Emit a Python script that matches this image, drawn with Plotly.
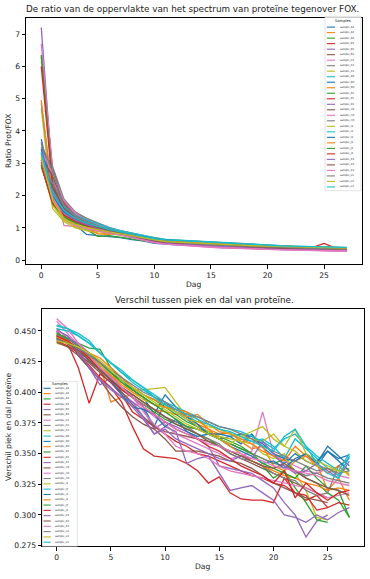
import plotly.graph_objects as go

days = list(range(28))
samples = ["sample_A1","sample_A2","sample_A3","sample_B1","sample_B2","sample_B3",
           "sample_C1","sample_C2","sample_C3","sample_D1","sample_D2","sample_D3",
           "sample_E1","sample_E2","sample_E3","sample_H1","sample_H2","sample_H3",
           "sample_I1","sample_I2","sample_I3","sample_J1","sample_J2","sample_J3",
           "sample_K1","sample_K2","sample_K3","sample_L1","sample_L2","sample_L3"]

ratio_A1 = [3.30,2.00,1.40,1.10,0.80,0.76,0.74,0.70,0.64,0.60,0.52,0.49,0.48,0.46,0.45,0.43,0.42,0.41,0.40,0.39,0.37,0.36,0.35,0.34,0.33,0.33,0.32,0.32]
ratio_A2 = [3.10,1.85,1.35,1.20,1.05,0.92,0.88,0.85,0.78,0.70,0.62,0.58,0.57,0.55,0.54,0.52,0.50,0.49,0.47,0.45,0.43,0.41,0.40,0.39,0.40,0.38,0.36,0.35]
ratio_A3 = [2.95,1.75,1.30,1.15,0.95,0.74,0.76,0.72,0.66,0.60,0.55,0.52,0.50,0.48,0.46,0.45,0.43,0.42,0.41,0.40,0.38,0.37,0.36,0.35,0.34,0.33,0.33,0.32]
ratio_B1 = [3.05,1.90,1.55,1.25,1.10,0.95,0.86,0.80,0.72,0.66,0.58,0.55,0.54,0.52,0.50,0.48,0.46,0.44,0.43,0.42,0.41,0.40,0.39,0.38,0.40,0.52,0.38,0.37]
ratio_B2 = [7.20,2.50,1.70,1.40,1.25,1.10,0.98,0.90,0.82,0.74,0.64,0.58,0.56,0.52,0.49,0.46,0.44,0.42,0.40,0.38,0.36,0.35,0.34,0.33,0.32,0.31,0.31,0.30]
ratio_B3 = [6.30,2.85,1.80,1.45,1.30,1.12,1.00,0.88,0.80,0.72,0.63,0.60,0.57,0.54,0.50,0.47,0.45,0.43,0.42,0.40,0.38,0.36,0.35,0.34,0.33,0.32,0.32,0.31]
ratio_C1 = [6.70,2.80,1.08,1.05,1.00,0.90,0.84,0.80,0.70,0.62,0.55,0.50,0.47,0.44,0.42,0.40,0.38,0.37,0.36,0.35,0.34,0.33,0.32,0.31,0.30,0.29,0.29,0.28]
ratio_C2 = [3.50,2.90,1.90,1.50,1.30,1.15,1.02,0.92,0.84,0.76,0.68,0.63,0.60,0.56,0.53,0.50,0.48,0.46,0.44,0.42,0.40,0.38,0.37,0.36,0.35,0.34,0.33,0.33]
ratio_C3 = [4.70,1.60,1.20,1.00,0.92,0.85,0.82,0.78,0.70,0.64,0.57,0.53,0.51,0.49,0.47,0.45,0.44,0.43,0.42,0.41,0.40,0.39,0.38,0.37,0.36,0.36,0.35,0.35]
ratio_D1 = [4.85,2.10,1.60,1.35,1.20,1.05,0.95,0.88,0.82,0.76,0.68,0.64,0.62,0.60,0.58,0.55,0.52,0.50,0.48,0.46,0.44,0.43,0.42,0.41,0.40,0.39,0.38,0.38]
ratio_D2 = [3.75,2.20,1.65,1.30,1.10,0.98,0.90,0.84,0.76,0.70,0.62,0.58,0.56,0.54,0.52,0.50,0.49,0.48,0.47,0.46,0.44,0.42,0.40,0.38,0.36,0.35,0.34,0.34]
ratio_D3 = [4.95,1.95,1.40,1.15,1.00,0.90,0.86,0.90,0.84,0.76,0.70,0.64,0.62,0.60,0.57,0.55,0.53,0.52,0.50,0.48,0.46,0.44,0.43,0.42,0.41,0.40,0.39,0.38]
ratio_E1 = [6.35,2.40,1.50,1.25,1.15,1.05,0.95,0.85,0.76,0.68,0.60,0.56,0.54,0.51,0.48,0.46,0.44,0.42,0.41,0.40,0.38,0.37,0.36,0.35,0.34,0.33,0.33,0.32]
ratio_E2 = [6.00,2.30,1.60,1.30,1.15,1.00,0.90,0.82,0.74,0.67,0.58,0.54,0.52,0.49,0.47,0.45,0.43,0.41,0.40,0.39,0.37,0.36,0.35,0.34,0.33,0.33,0.32,0.32]
ratio_E3 = [3.65,2.00,1.45,1.20,1.05,0.95,0.88,0.80,0.72,0.65,0.56,0.52,0.50,0.47,0.45,0.43,0.41,0.40,0.39,0.37,0.35,0.34,0.33,0.32,0.32,0.31,0.30,0.30]
ratio_H1 = [3.20,2.60,1.75,1.40,1.20,1.08,0.97,0.86,0.78,0.70,0.62,0.58,0.55,0.52,0.50,0.48,0.46,0.44,0.43,0.41,0.39,0.38,0.37,0.36,0.35,0.34,0.34,0.33]
ratio_H2 = [3.40,2.70,1.85,1.45,1.25,1.10,0.96,0.84,0.74,0.66,0.57,0.52,0.49,0.46,0.44,0.42,0.40,0.38,0.37,0.36,0.34,0.33,0.32,0.31,0.30,0.29,0.29,0.28]
ratio_H3 = [3.60,2.75,1.70,1.35,1.18,1.05,0.94,0.84,0.76,0.69,0.61,0.57,0.54,0.51,0.49,0.47,0.45,0.44,0.42,0.41,0.39,0.38,0.37,0.36,0.35,0.35,0.34,0.34]
ratio_I1 = [3.00,1.70,1.25,1.05,0.95,0.90,0.88,0.82,0.74,0.67,0.60,0.56,0.54,0.52,0.50,0.48,0.47,0.46,0.45,0.44,0.43,0.42,0.41,0.40,0.40,0.39,0.38,0.37]
ratio_I2 = [3.15,2.15,1.65,1.40,1.25,1.12,1.00,0.92,0.84,0.78,0.70,0.65,0.63,0.61,0.59,0.57,0.54,0.52,0.50,0.48,0.46,0.45,0.44,0.43,0.42,0.41,0.40,0.39]
ratio_I3 = [3.45,2.00,1.50,1.25,1.08,0.96,0.90,0.85,0.80,0.74,0.66,0.62,0.60,0.58,0.55,0.53,0.51,0.50,0.48,0.47,0.45,0.44,0.43,0.42,0.42,0.41,0.40,0.39]
ratio_J1 = [3.25,1.90,1.30,1.10,1.00,0.82,0.80,0.86,0.80,0.72,0.64,0.60,0.58,0.56,0.54,0.52,0.51,0.50,0.49,0.47,0.45,0.44,0.43,0.42,0.41,0.40,0.39,0.38]
ratio_J2 = [2.90,1.80,1.35,1.15,1.05,0.98,0.90,0.82,0.75,0.68,0.60,0.57,0.55,0.53,0.51,0.49,0.47,0.46,0.45,0.44,0.42,0.41,0.40,0.39,0.38,0.37,0.36,0.36]
ratio_J3 = [2.95,1.75,1.40,1.20,1.08,0.96,0.88,0.80,0.72,0.65,0.57,0.54,0.52,0.50,0.48,0.46,0.45,0.44,0.43,0.42,0.41,0.40,0.39,0.38,0.38,0.37,0.36,0.36]
ratio_K1 = [3.30,2.10,1.55,1.25,1.10,0.98,0.88,0.80,0.72,0.64,0.56,0.52,0.50,0.48,0.46,0.44,0.42,0.41,0.40,0.39,0.37,0.36,0.35,0.34,0.33,0.33,0.32,0.32]
ratio_K2 = [3.00,2.25,1.60,1.30,1.15,1.02,0.92,0.84,0.76,0.69,0.60,0.56,0.54,0.52,0.49,0.47,0.45,0.43,0.42,0.41,0.39,0.38,0.37,0.36,0.36,0.35,0.34,0.34]
ratio_K3 = [3.10,1.95,1.30,1.08,0.98,0.90,0.84,0.78,0.70,0.63,0.55,0.50,0.47,0.45,0.43,0.41,0.39,0.38,0.37,0.35,0.34,0.33,0.32,0.31,0.30,0.30,0.29,0.29]
ratio_L1 = [2.95,2.40,1.70,1.38,1.20,1.06,0.96,0.86,0.78,0.70,0.62,0.58,0.55,0.52,0.50,0.48,0.46,0.45,0.44,0.42,0.40,0.39,0.38,0.37,0.36,0.35,0.35,0.34]
ratio_L2 = [3.20,1.85,1.28,1.12,1.02,0.94,0.88,0.82,0.76,0.70,0.62,0.58,0.56,0.54,0.52,0.50,0.48,0.47,0.46,0.45,0.44,0.43,0.42,0.41,0.40,0.39,0.38,0.38]
ratio_L3 = [3.35,2.05,1.55,1.30,1.15,1.04,0.95,0.88,0.81,0.75,0.67,0.63,0.61,0.59,0.57,0.55,0.53,0.51,0.49,0.47,0.46,0.45,0.44,0.43,0.42,0.41,0.40,0.40]

diff_A1 = [0.445,0.442,0.436,0.425,0.418,0.410,0.404,0.396,0.388,0.372,0.392,0.384,0.378,0.372,0.366,0.362,0.364,0.358,0.366,0.355,0.348,0.342,0.350,0.344,0.340,0.352,0.346,0.349]
diff_A2 = [0.448,0.444,0.438,0.430,0.422,0.392,0.396,0.398,0.392,0.386,0.384,0.382,0.383,0.374,0.370,0.366,0.367,0.360,0.354,0.356,0.340,0.336,0.344,0.348,0.342,0.320,0.330,0.312]
diff_A3 = [0.446,0.443,0.440,0.436,0.435,0.420,0.412,0.404,0.398,0.394,0.388,0.382,0.376,0.372,0.368,0.364,0.360,0.356,0.350,0.346,0.342,0.345,0.336,0.330,0.326,0.318,0.312,0.298]
diff_B1 = [0.450,0.440,0.420,0.391,0.415,0.408,0.398,0.384,0.378,0.372,0.366,0.360,0.356,0.350,0.348,0.344,0.340,0.336,0.332,0.330,0.326,0.324,0.318,0.312,0.316,0.306,0.310,0.308]
diff_B2 = [0.452,0.444,0.430,0.420,0.406,0.412,0.400,0.392,0.386,0.370,0.376,0.372,0.368,0.362,0.356,0.340,0.338,0.336,0.334,0.328,0.322,0.310,0.300,0.282,0.295,0.300]
diff_B3 = [0.447,0.440,0.432,0.424,0.416,0.408,0.400,0.390,0.380,0.372,0.368,0.366,0.364,0.362,0.360,0.356,0.350,0.346,0.342,0.338,0.334,0.330,0.326,0.322,0.318,0.314]
diff_C1 = [0.458,0.448,0.438,0.428,0.418,0.410,0.402,0.396,0.388,0.380,0.374,0.366,0.362,0.358,0.354,0.350,0.346,0.348,0.352,0.384,0.350,0.344,0.340,0.336,0.334,0.338,0.332,0.330]
diff_C2 = [0.443,0.440,0.434,0.428,0.420,0.412,0.404,0.398,0.392,0.386,0.380,0.376,0.372,0.370,0.366,0.362,0.358,0.354,0.350,0.346,0.342,0.340,0.336,0.332,0.334,0.330,0.328,0.326]
diff_C3 = [0.440,0.438,0.436,0.430,0.424,0.416,0.408,0.402,0.402,0.403,0.404,0.392,0.380,0.372,0.368,0.364,0.362,0.360,0.358,0.350,0.346,0.350,0.334,0.320,0.298,0.296]
diff_D1 = [0.454,0.452,0.448,0.442,0.432,0.424,0.416,0.410,0.404,0.396,0.390,0.384,0.380,0.376,0.374,0.370,0.366,0.362,0.360,0.362,0.356,0.346,0.362,0.354,0.346,0.338,0.332,0.347]
diff_D2 = [0.446,0.444,0.440,0.432,0.424,0.416,0.410,0.402,0.396,0.382,0.398,0.388,0.380,0.374,0.366,0.366,0.364,0.366,0.364,0.358,0.350,0.346,0.344,0.350,0.342,0.356,0.348,0.340]
diff_D3 = [0.446,0.440,0.436,0.432,0.428,0.420,0.412,0.404,0.398,0.394,0.390,0.386,0.380,0.382,0.374,0.368,0.366,0.362,0.358,0.352,0.348,0.344,0.356,0.348,0.340,0.334,0.340,0.332]
diff_E1 = [0.444,0.440,0.434,0.426,0.418,0.410,0.402,0.396,0.390,0.384,0.378,0.374,0.370,0.366,0.362,0.356,0.352,0.348,0.344,0.340,0.330,0.336,0.322,0.310,0.296,0.294]
diff_E2 = [0.442,0.438,0.432,0.422,0.412,0.404,0.392,0.372,0.354,0.348,0.347,0.346,0.342,0.336,0.326,0.331,0.318,0.313,0.312,0.312,0.310,0.330,0.318,0.316,0.304,0.306]
diff_E3 = [0.449,0.442,0.432,0.420,0.410,0.402,0.396,0.392,0.380,0.366,0.372,0.368,0.342,0.346,0.348,0.334,0.320,0.322,0.324,0.318,0.312,0.300,0.298,0.294,0.300,0.296,0.302,0.306]
diff_H1 = [0.441,0.437,0.430,0.420,0.410,0.398,0.388,0.380,0.374,0.370,0.362,0.352,0.352,0.352,0.350,0.348,0.344,0.342,0.338,0.332,0.326,0.322,0.318,0.314,0.312,0.310]
diff_H2 = [0.450,0.446,0.440,0.432,0.424,0.414,0.404,0.396,0.384,0.374,0.366,0.356,0.352,0.350,0.346,0.340,0.336,0.334,0.332,0.330,0.328,0.326,0.324,0.322,0.318,0.314,0.316,0.318]
diff_H3 = [0.447,0.444,0.438,0.430,0.420,0.412,0.404,0.396,0.390,0.386,0.380,0.376,0.372,0.366,0.362,0.358,0.350,0.346,0.344,0.340,0.334,0.330,0.328,0.320,0.316,0.318,0.340,0.346]
diff_I1 = [0.446,0.442,0.436,0.430,0.422,0.414,0.408,0.400,0.394,0.390,0.388,0.384,0.378,0.376,0.372,0.370,0.366,0.364,0.362,0.360,0.366,0.356,0.352,0.344,0.340,0.338,0.336,0.338]
diff_I2 = [0.452,0.450,0.446,0.440,0.432,0.424,0.418,0.410,0.404,0.398,0.392,0.388,0.384,0.380,0.376,0.372,0.370,0.368,0.364,0.360,0.354,0.362,0.366,0.356,0.348,0.342,0.336,0.350]
diff_I3 = [0.444,0.441,0.436,0.428,0.420,0.410,0.398,0.388,0.386,0.382,0.372,0.378,0.368,0.364,0.366,0.362,0.356,0.352,0.348,0.342,0.344,0.338,0.346,0.350,0.344,0.352,0.344,0.336]
diff_J1 = [0.445,0.441,0.436,0.428,0.420,0.414,0.406,0.400,0.396,0.390,0.388,0.386,0.384,0.378,0.370,0.362,0.356,0.350,0.344,0.340,0.336,0.332,0.330,0.326,0.324,0.320,0.322,0.320]
diff_J2 = [0.448,0.444,0.438,0.432,0.424,0.416,0.408,0.402,0.396,0.390,0.384,0.378,0.372,0.370,0.366,0.362,0.358,0.354,0.350,0.342,0.338,0.334,0.330,0.340,0.330,0.322,0.320,0.298]
diff_J3 = [0.446,0.442,0.436,0.428,0.418,0.410,0.402,0.396,0.388,0.382,0.376,0.370,0.366,0.362,0.356,0.352,0.346,0.340,0.336,0.332,0.326,0.336,0.314,0.326,0.318,0.312,0.318,0.320]
diff_K1 = [0.451,0.446,0.436,0.420,0.410,0.404,0.396,0.388,0.378,0.366,0.370,0.362,0.358,0.354,0.350,0.346,0.344,0.348,0.346,0.360,0.350,0.340,0.334,0.336,0.342,0.336,0.330,0.344]
diff_K2 = [0.444,0.440,0.434,0.426,0.418,0.410,0.404,0.398,0.392,0.386,0.380,0.374,0.370,0.366,0.360,0.356,0.352,0.348,0.344,0.340,0.338,0.342,0.336,0.330,0.326,0.322,0.320,0.316]
diff_K3 = [0.460,0.452,0.440,0.430,0.420,0.412,0.404,0.396,0.388,0.382,0.376,0.370,0.366,0.362,0.358,0.356,0.352,0.350,0.346,0.344,0.340,0.338,0.336,0.334,0.332,0.328,0.326,0.324]
diff_L1 = [0.443,0.440,0.436,0.430,0.424,0.418,0.412,0.406,0.400,0.396,0.392,0.386,0.382,0.380,0.376,0.372,0.370,0.366,0.362,0.356,0.352,0.348,0.344,0.340,0.336,0.338,0.334,0.336]
diff_L2 = [0.442,0.440,0.437,0.432,0.426,0.418,0.410,0.404,0.398,0.392,0.386,0.380,0.374,0.370,0.366,0.362,0.358,0.364,0.368,0.372,0.362,0.356,0.370,0.350,0.344,0.340,0.336,0.334]
diff_L3 = [0.455,0.452,0.446,0.440,0.432,0.424,0.416,0.408,0.402,0.396,0.390,0.386,0.382,0.378,0.374,0.370,0.368,0.364,0.360,0.356,0.352,0.364,0.370,0.356,0.342,0.334,0.330,0.348]

ratio = [ratio_A1,ratio_A2,ratio_A3,ratio_B1,ratio_B2,ratio_B3,ratio_C1,ratio_C2,ratio_C3,
         ratio_D1,ratio_D2,ratio_D3,ratio_E1,ratio_E2,ratio_E3,ratio_H1,ratio_H2,ratio_H3,
         ratio_I1,ratio_I2,ratio_I3,ratio_J1,ratio_J2,ratio_J3,ratio_K1,ratio_K2,ratio_K3,
         ratio_L1,ratio_L2,ratio_L3]
diff = [diff_A1,diff_A2,diff_A3,diff_B1,diff_B2,diff_B3,diff_C1,diff_C2,diff_C3,
        diff_D1,diff_D2,diff_D3,diff_E1,diff_E2,diff_E3,diff_H1,diff_H2,diff_H3,
        diff_I1,diff_I2,diff_I3,diff_J1,diff_J2,diff_J3,diff_K1,diff_K2,diff_K3,
        diff_L1,diff_L2,diff_L3]

x_ticks = [0, 5, 10, 15, 20, 25]
y1_ticks = [0, 1, 2, 3, 4, 5, 6, 7]
y2_ticks = [0.275, 0.300, 0.325, 0.350, 0.375, 0.400, 0.425, 0.450]

colors = ['#1f77b4','#ff7f0e','#2ca02c','#d62728','#9467bd',
          '#8c564b','#e377c2','#7f7f7f','#bcbd22','#17becf']

W, H = 370, 579
FONT = "DejaVu Sans"

def pxx(x):
    return x / W

def pyy(y):
    return 1 - y / H

fig = go.Figure()
for i, name in enumerate(samples):
    c = colors[i % 10]
    fig.add_trace(go.Scatter(x=days[:len(ratio[i])], y=ratio[i], mode='lines', name=name,
                             line=dict(color=c, width=1.3), xaxis='x', yaxis='y', showlegend=False))
for i, name in enumerate(samples):
    c = colors[i % 10]
    fig.add_trace(go.Scatter(x=days[:len(diff[i])], y=diff[i], mode='lines', name=name,
                             line=dict(color=c, width=1.3), xaxis='x2', yaxis='y2', showlegend=False))

axis_common = dict(showline=True, mirror=True, linecolor='#000', linewidth=0.8,
                   ticks='outside', ticklen=3.5, tickwidth=0.8, tickcolor='#000',
                   showgrid=False, zeroline=False,
                   tickfont=dict(family=FONT, size=7.6, color='#222'))

# axes boxes (pixels)
T_L, T_R, T_T, T_B = 26, 362, 18, 266
B_L, B_R, B_T, B_B = 42, 364, 310.7, 550

fig.update_layout(
    width=W, height=H, margin=dict(l=0, r=0, t=0, b=0),
    paper_bgcolor='white', plot_bgcolor='white',
    xaxis=dict(domain=[pxx(T_L), pxx(T_R)], range=[-1.35, 28.35], tickvals=x_ticks,
               anchor='y', **axis_common),
    yaxis=dict(domain=[pyy(T_B), pyy(T_T)], range=[-0.12, 7.5], tickvals=y1_ticks,
               anchor='x', **axis_common),
    xaxis2=dict(domain=[pxx(B_L), pxx(B_R)], range=[-1.35, 28.35], tickvals=x_ticks,
                anchor='y2', **axis_common),
    yaxis2=dict(domain=[pyy(B_B), pyy(B_T)], range=[0.2745, 0.4683], tickvals=y2_ticks,
                ticktext=[f"{v:.3f}" for v in y2_ticks], anchor='x2', **axis_common),
)

ann = []
def text(x, y, s, size, angle=0, xanchor='center', color='#222'):
    ann.append(dict(x=pxx(x), y=pyy(y), xref='paper', yref='paper', text=s, showarrow=False,
                    xanchor=xanchor, yanchor='middle', textangle=angle,
                    font=dict(family=FONT, size=size, color=color)))

text(192, 9, "De ratio van de oppervlakte van het spectrum van proteïne tegenover FOX.", 8.8)
text((T_L + T_R) / 2, 286, "Dag", 7.6)
text(8, (T_T + T_B) / 2, "Ratio Prot/FOX", 7.6, angle=-90)
text(204, 302, "Verschil tussen piek en dal van proteïne.", 8.8)
text((B_L + B_R) / 2, 570, "Dag", 7.6)
text(8.5, (B_T + B_B) / 2, "Verschil piek en dal proteïne", 7.6, angle=-90)

shapes = []
def legend(x0, x1, y0, y1, title_y, first_y, step, sw0, sw1, tx):
    shapes.append(dict(type='rect', xref='paper', yref='paper', x0=pxx(x0), x1=pxx(x1),
                       y0=pyy(y1), y1=pyy(y0), fillcolor='rgba(255,255,255,0.8)',
                       line=dict(color='#d0d0d0', width=0.6), layer='above'))
    text((x0 + x1) / 2, title_y, "Samples", 3.7)
    for i, name in enumerate(samples):
        y = first_y + i * step
        shapes.append(dict(type='line', xref='paper', yref='paper', x0=pxx(sw0), x1=pxx(sw1),
                           y0=pyy(y), y1=pyy(y), line=dict(color=colors[i % 10], width=1.1),
                           layer='above'))
        text(tx, y, name, 2.6, xanchor='left')

legend(325, 361, 16.5, 192, 21, 27.3, 5.55, 326.8, 335, 337.5)
legend(42.5, 77.3, 384, 550, 387, 391, 5.345, 43.5, 50.7, 53)

fig.update_layout(annotations=ann, shapes=shapes)
fig.write_html("out.html", config={"displayModeBar": False},
               post_script="document.body.style.margin='0';")
